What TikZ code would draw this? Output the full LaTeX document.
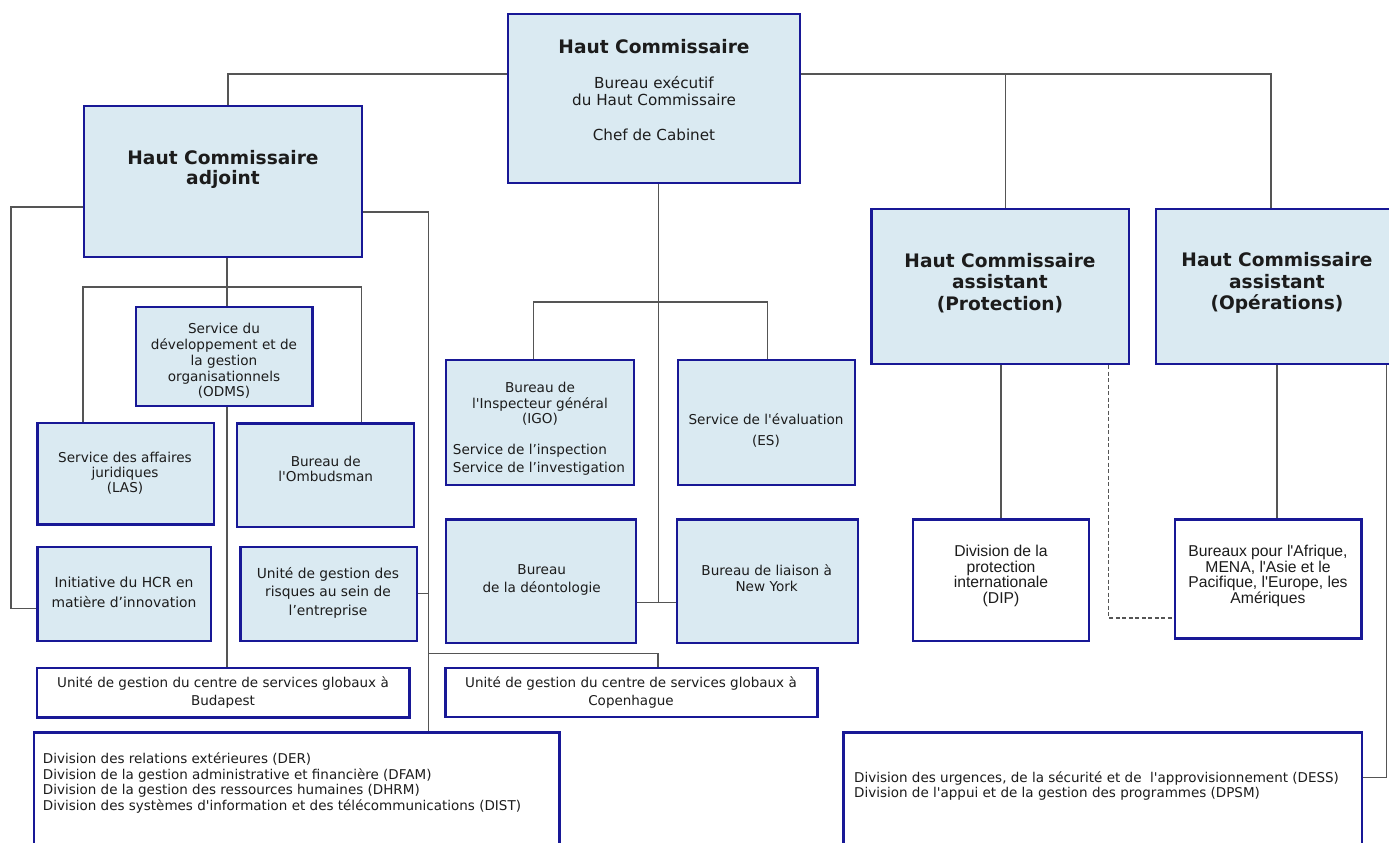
\documentclass[tikz,border=0pt]{standalone}
\usepackage{fontspec}
\setmainfont{DejaVu Sans}[Ligatures=TeXOff]
\newfontfamily\arialf{Liberation Sans}[Ligatures=TeXOff]
\usetikzlibrary{fit,backgrounds}
\definecolor{bfill}{RGB}{218,234,242}
\definecolor{bdraw}{RGB}{24,24,150}
\definecolor{lgray}{RGB}{85,85,85}
\definecolor{txt}{RGB}{28,28,28}
\newcommand\fsz[2]{\fontsize{#1}{#2}\selectfont}
\tikzset{
  bx/.style={draw=bdraw, line width=2.4pt, fill=bfill, inner sep=0pt, rectangle},
  wbx/.style={bx, fill=white},
  tx/.style={text=txt, inner sep=0pt, align=center},
  ttl/.style={tx, font={\fsz{18.6}{21}\bfseries}},
  cn/.style={draw=lgray, line width=1.2pt},
  dsh/.style={cn, dash pattern=on 4pt off 2.5pt}
}
\begin{document}
\begin{tikzpicture}[x=1pt,y=-1pt]
\useasboundingbox (0,0) rectangle (1389,843);
\begin{pgfonlayer}{background}
\fill[white] (0,0) rectangle (1389,843);
\end{pgfonlayer}

% boxes
\node[bx, fit={(508,14) (800,183)}] (hc) {};
\node[bx, fit={(84,106) (362,257)}] (hca) {};
\node[bx, fit={(871.5,209) (1129,364)}] (prot) {};
\node[bx, fit={(1156,209) (1400,364)}] (ops) {};
\node[bx, fit={(135.7,306.7) (312.3,405.7)}] (odms) {};
\node[bx, fit={(37.3,422.7) (213.7,524.3)}] (las) {};
\node[bx, fit={(237,423.3) (413.7,526.7)}] (omb) {};
\node[bx, fit={(37.3,546.7) (210.7,641)}] (innov) {};
\node[bx, fit={(240.3,546.7) (417,641)}] (risk) {};
\node[wbx, fit={(37,668) (409.4,717.3)}] (buda) {};
\node[wbx, fit={(445.6,667.7) (817.3,717)}] (cope) {};
\node[bx, fit={(445.7,360) (633.7,484.7)}] (igo) {};
\node[bx, fit={(677.7,360) (854.7,484.7)}] (es) {};
\node[bx, fit={(445.7,519.3) (636,642.7)}] (deon) {};
\node[bx, fit={(676.7,519.3) (857.7,642.7)}] (ny) {};
\node[wbx, fit={(912.9,519.3) (1088.9,640.7)}] (dip) {};
\node[wbx, fit={(1174.9,519.3) (1361.5,638.5)}] (bur) {};
\node[wbx, fit={(34,732.3) (559.4,860)}] (divL) {};
\node[wbx, fit={(843.3,732.3) (1361.7,860)}] (divR) {};

% texts
\node[ttl] (hcT1) at (654,46.5) {Haut Commissaire};
\node[tx, font=\fsz{15.2}{16.6}] (hcT2) at (654,91) {Bureau exécutif\\du Haut Commissaire};
\node[tx, font=\fsz{15.2}{16.6}] (hcT3) at (654,135) {Chef de Cabinet};
\node[ttl, font={\fsz{18.6}{20}\bfseries}] (hcaT) at (223,169) {Haut Commissaire\\adjoint};
\node[ttl, font={\fsz{18.6}{21.5}\bfseries}] (protT) at (1000,283) {Haut Commissaire\\assistant\\(Protection)};
\node[ttl, font={\fsz{18.6}{21.5}\bfseries}] (opsT) at (1277,283) {Haut Commissaire\\assistant\\(Opérations)};
\node[tx, font=\fsz{13.6}{15.8}] (odmsT) at (224,361) {Service du\\développement et de\\la gestion\\organisationnels\\(ODMS)};
\node[tx, font=\fsz{13.6}{15.2}] (lasT) at (125,473) {Service des affaires\\juridiques\\(LAS)};
\node[tx, font=\fsz{13.6}{15}] (ombT) at (325.7,469) {Bureau de\\l'Ombudsman};
\node[tx, font=\fsz{13.9}{19.6}] (innovT) at (124,592.5) {Initiative du HCR en\\matière d’innovation};
\node[tx, font=\fsz{13.8}{18.5}] (riskT) at (328,592.5) {Unité de gestion des\\risques au sein de\\l’entreprise};
\node[tx, font=\fsz{13.5}{18}] (budaT) at (223,692) {Unité de gestion du centre de services globaux à\\Budapest};
\node[tx, font=\fsz{13.5}{18}] (copeT) at (631,692) {Unité de gestion du centre de services globaux à\\Copenhague};
\node[tx, font=\fsz{13.6}{15.5}] (igoT1) at (540,404) {Bureau de\\l'Inspecteur général\\(IGO)};
\node[tx, align=left, anchor=west, font=\fsz{13.6}{18.3}] (igoT2) at (452.7,460) {Service de l’inspection\\Service de l’investigation};
\node[tx, font=\fsz{13.6}{21}] (esT) at (766,430.5) {Service de l'évaluation\\(ES)};
\node[tx, font=\fsz{13.6}{18.3}] (deonT) at (541.7,580) {Bureau\\de la déontologie};
\node[tx, font=\fsz{13.6}{16}] (nyT) at (766.7,578) {Bureau de liaison à\\New York};
\node[tx, font={\arialf\fsz{15.7}{15.4}}] (dipT) at (1001,576) {Division de la\\protection\\internationale\\(DIP)};
\node[tx, font={\arialf\fsz{15.7}{15.4}}] (burT) at (1268,576) {Bureaux pour l'Afrique,\\MENA, l'Asie et le\\Pacifique, l'Europe, les\\Amériques};
\node[tx, align=left, anchor=west, font=\fsz{13.5}{15.4}] (divLT) at (42.7,783) {Division des relations extérieures (DER)\\Division de la gestion administrative et financière (DFAM)\\Division de la gestion des ressources humaines (DHRM)\\Division des systèmes d'information et des télécommunications (DIST)};
\node[tx, align=left, anchor=west, font=\fsz{13.5}{15}] (divRT) at (854,786) {Division des urgences, de la sécurité et de~ l'approvisionnement (DESS)\\Division de l'appui et de la gestion des programmes (DPSM)};

% helper coordinates
\coordinate (yTop) at (0,74);
\coordinate (xA) at (228,0);
\coordinate (xO) at (1271,0);
\coordinate (xP) at (1005.6,0);
\coordinate (yL) at (0,207);
\coordinate (xL) at (11,0);
\coordinate (yI) at (0,608.3);
\coordinate (yR) at (0,212);
\coordinate (xR) at (428.6,0);
\coordinate (yRk) at (0,593.3);
\coordinate (yC) at (0,653.3);
\coordinate (xC) at (658,0);
\coordinate (xM) at (227,0);
\coordinate (yH) at (0,287);
\coordinate (xLa) at (83,0);
\coordinate (xOm) at (361.7,0);
\coordinate (xH) at (658.3,0);
\coordinate (yD) at (0,602.7);
\coordinate (yB) at (0,302);
\coordinate (xI) at (533.7,0);
\coordinate (xE) at (767.7,0);
\coordinate (xD) at (1108.6,0);
\coordinate (yDa) at (0,618);
\coordinate (xOb) at (1277,0);
\coordinate (yDR) at (0,777.3);
\coordinate (xRR) at (1386.3,0);

\begin{pgfonlayer}{background}
\draw[cn] (hc.west |- yTop) -- (xA |- yTop) -- (hca.north -| xA);
\draw[cn] (hc.east |- yTop) -- (xO |- yTop) -- (ops.north -| xO);
\draw[cn] (xP |- yTop) -- (prot.north -| xP);
\draw[cn] (hca.west |- yL) -- (xL |- yL) -- (xL |- yI) -- (innov.west |- yI);
\draw[cn] (hca.east |- yR) -- (xR |- yR) -- (divL.north -| xR);
\draw[cn] (risk.east |- yRk) -- (xR |- yRk);
\draw[cn] (xR |- yC) -- (xC |- yC) -- (cope.north -| xC);
\draw[cn] (hca.south -| xM) -- (buda.north -| xM);
\draw[cn] (las.north -| xLa) -- (xLa |- yH) -- (xOm |- yH) -- (omb.north -| xOm);
\draw[cn] (hc.south -| xH) -- (xH |- yD);
\draw[cn] (deon.east |- yD) -- (ny.west |- yD);
\draw[cn] (igo.north -| xI) -- (xI |- yB) -- (xE |- yB) -- (es.north -| xE);
\draw[cn] (prot.south -| dip.north) -- (dip.north);
\draw[dsh] (prot.south -| xD) -- (xD |- yDa) -- (bur.west |- yDa);
\draw[cn] (ops.south -| xOb) -- (bur.north -| xOb);
\draw[cn] (divR.east |- yDR) -- (xRR |- yDR) -- (ops.south -| xRR);
\end{pgfonlayer}
\end{tikzpicture}
\end{document}
